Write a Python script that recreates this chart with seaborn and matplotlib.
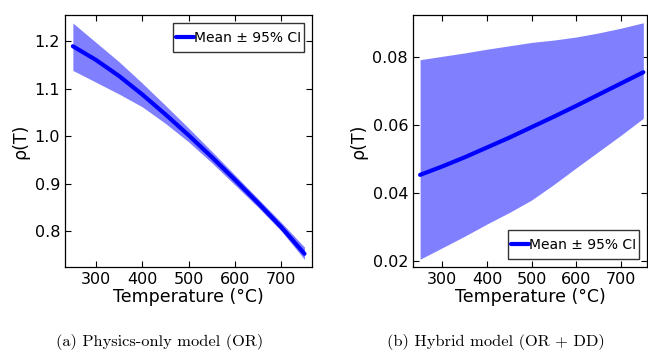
import matplotlib
matplotlib.use('Agg')
import matplotlib.pyplot as plt
import numpy as np
import pandas as pd
import seaborn as sns
from matplotlib.legend_handler import HandlerLine2D
from matplotlib.lines import Line2D

# temperatures (deg C) where the curves were read
temps = [250, 300, 350, 400, 450, 500, 550, 600, 650, 700, 750]

# (a) physics-only model
or_mean = [1.190, 1.161, 1.127, 1.088, 1.046, 1.002, 0.956, 0.908, 0.859, 0.808, 0.752]
or_upper = [1.239, 1.198, 1.157, 1.112, 1.065, 1.017, 0.968, 0.918, 0.868, 0.818, 0.766]
or_lower = [1.139, 1.114, 1.089, 1.062, 1.027, 0.988, 0.944, 0.897, 0.850, 0.800, 0.740]

# (b) hybrid model
hy_mean = [0.0453, 0.0478, 0.0505, 0.0534, 0.0563, 0.0594, 0.0625, 0.0657, 0.0690, 0.0723, 0.0756]
hy_upper = [0.0793, 0.0803, 0.0813, 0.0824, 0.0834, 0.0844, 0.0851, 0.0860, 0.0872, 0.0886, 0.0902]
hy_lower = [0.0204, 0.0238, 0.0272, 0.0308, 0.0342, 0.0379, 0.0425, 0.0474, 0.0522, 0.0570, 0.0620]

captions = ['(a) Physics-only model (OR)', '(b) Hybrid model (OR + DD)']

sns.set_style('ticks', {'xtick.direction': 'in', 'ytick.direction': 'in'})
plt.rcParams['font.family'] = ['DejaVu Sans']
plt.rcParams.update({'text.color': 'black', 'axes.labelcolor': 'black',
                     'xtick.color': 'black', 'ytick.color': 'black'})


def mid_line(legline, orig):
  # keep the handle level with the middle of the label text
  legline.update_from(orig)
  legline.set_ydata(np.full_like(legline.get_xdata(), 3.6))


def panel(ax, mean, upper, lower, xlim, ylim, loc):
  df = pd.DataFrame({'T': temps, 'rho': mean})
  ax.fill_between(temps, lower, upper, color='#8080ff', linewidth=0)
  sns.lineplot(data=df, x='T', y='rho', ax=ax, color='#0000ff', lw=3,
               label='Mean ± 95% CI')
  ax.set_xlim(*xlim)
  ax.set_ylim(*ylim)
  ax.set_xticks([300, 400, 500, 600, 700])
  ax.set_xlabel('Temperature (°C)', fontsize=12.5, labelpad=1)
  ax.set_ylabel('ρ(T)', fontsize=12.5)
  ax.tick_params(top=True, right=True, direction='in', length=4,
                 labelsize=11.5, width=0.8)
  for s in ax.spines.values():
    s.set_linewidth(0.9)
    s.set_color('black')
  leg = ax.legend(loc=loc, fontsize=10, handlelength=1.3, handletextpad=0.0,
                  handleheight=2.2, borderpad=0.2, borderaxespad=0.6,
                  fancybox=False, framealpha=1,
                  handler_map={Line2D: HandlerLine2D(update_func=mid_line)})
  leg.get_frame().set_edgecolor('#333333')


fig = plt.figure(figsize=(6.48, 3.53), dpi=100)
ax1 = fig.add_axes([0.1003, 0.2436, 0.381, 0.714])
ax2 = fig.add_axes([0.6373, 0.2436, 0.361, 0.714])

panel(ax1, or_mean, or_upper, or_lower, (233, 766), (0.724, 1.256), 'upper right')
ax1.set_yticks([0.8, 0.9, 1.0, 1.1, 1.2])
panel(ax2, hy_mean, hy_upper, hy_lower, (234, 758), (0.0181, 0.0925), 'lower right')
ax2.set_yticks([0.02, 0.04, 0.06, 0.08])

fig.text(0.247, 0.03, captions[0], ha='center', va='center',
         family='cmr10', fontsize=11.8)
fig.text(0.765, 0.03, captions[1], ha='center', va='center',
         family='cmr10', fontsize=11.8)

fig.savefig('out.png', dpi=100)
